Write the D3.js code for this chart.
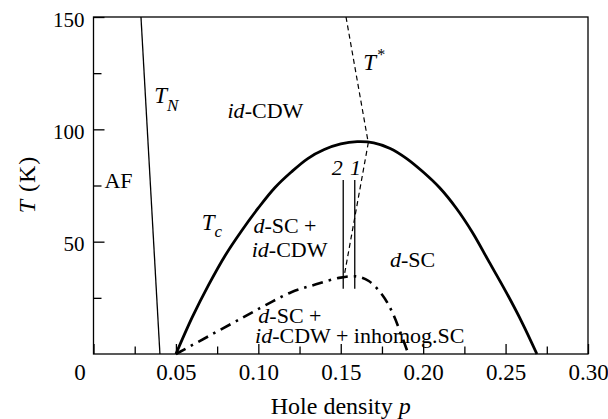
<!DOCTYPE html>
<html>
<head>
<meta charset="utf-8">
<script src="https://cdn.jsdelivr.net/npm/d3@7"></script>
<style>
    body { margin: 0; background: #fff; }
</style>
</head>
<body>
<div id="chart"></div>
<script>

// [ hole density p, T (K) ]
const tnLine       = [ [ 0.0288, 150 ], [ 0.0403, 0 ] ];
const tStarLine    = [ [ 0.1532, 150 ], [ 0.1667, 94 ], [ 0.1519, 34 ] ];
const tcCurve      = [ [ 0.05, 0 ], [ 0.06, 16.5 ], [ 0.07, 31 ], [ 0.08, 44 ], [ 0.09, 55 ],
                       [ 0.10, 65 ], [ 0.11, 74 ], [ 0.12, 81 ], [ 0.13, 87 ], [ 0.14, 91 ],
                       [ 0.15, 93.5 ], [ 0.16, 94.5 ], [ 0.17, 94 ], [ 0.18, 91.5 ], [ 0.19, 87 ],
                       [ 0.20, 81 ], [ 0.21, 74 ], [ 0.22, 65 ], [ 0.23, 54 ], [ 0.24, 41 ],
                       [ 0.25, 28 ], [ 0.26, 14 ], [ 0.269, 0 ] ];
const inhomogCurve = [ [ 0.05, 0 ], [ 0.07, 8 ], [ 0.09, 16 ], [ 0.105, 22 ], [ 0.12, 27.5 ],
                       [ 0.135, 31 ], [ 0.15, 34 ], [ 0.16, 34.5 ], [ 0.167, 32.5 ], [ 0.175, 26.5 ],
                       [ 0.181, 19 ], [ 0.186, 10 ], [ 0.191, 0 ] ];

// samples 1 and 2: p, T range
const sampleP    = [ 0.1585, 0.1515 ];
const sampleTmin = [ 29, 29 ];
const sampleTmax = [ 77.5, 77.5 ];

const xMajorTicks = [ 0, 0.05, 0.10, 0.15, 0.20, 0.25, 0.30 ];
const xMinorTicks = [ 0.025, 0.075, 0.125, 0.175, 0.225, 0.275 ];
const yMajorTicks = [ 50, 100, 150 ];
const yMinorTicks = [ 25, 75, 125 ];

// annotations: anchor in data units, pieces of [ text, italic ]
const labels = [
    { p: 0.0066, T: 73.8,  parts: [ [ "AF", false ] ] },
    { p: 0.0813, T: 104.9, parts: [ [ "id", true ], [ "-CDW", false ] ] },
    { p: 0.097,  T: 53.7,  parts: [ [ "d", true ], [ "-SC +", false ] ] },
    { p: 0.096,  T: 43.3,  parts: [ [ "id", true ], [ "-CDW", false ] ] },
    { p: 0.1799, T: 38.9,  parts: [ [ "d", true ], [ "-SC", false ] ] },
    { p: 0.100,  T: 13.7,  parts: [ [ "d", true ], [ "-SC +", false ] ] },
    { p: 0.098,  T: 4.8,   parts: [ [ "id", true ], [ "-CDW + inhomog.SC", false ] ] },
    { p: 0.1445, T: 79.7,  parts: [ [ "2", true ] ] },
    { p: 0.1556, T: 79.7,  parts: [ [ "1", true ] ] }
];

// temperature symbols: main T with a sub or superscript
const symbols = [
    { p: 0.0369, T: 111.7, sub: "N", dy: 8 },
    { p: 0.0656, T: 55.2,  sub: "c", dy: 7 },
    { p: 0.1637, T: 126.4, sub: "*", dy: -10 }
];

const SERIF = "Liberation Serif, DejaVu Serif, serif";

class PhaseDiagram
{
    constructor( parentID, width, height )
    {
        this.parentID = parentID;
        this.width    = width;
        this.height   = height;

        this.x = d3.scaleLinear().domain( [ 0, 0.30 ] ).range( [ 93.5, 588 ] );
        this.y = d3.scaleLinear().domain( [ 0, 150 ] ).range( [ 354, 17 ] );
    }

    render()
    {
        const x = this.x, y = this.y;

        const svg = d3.select( '#' + this.parentID )
                      .append( "svg" )
                      .attr( "width",  this.width )
                      .attr( "height", this.height )
                      .attr( "font-family", SERIF );

        const line = d3.line()
                       .x( d => x( d[ 0 ] ) )
                       .y( d => y( d[ 1 ] ) );

        // axes, ticks pointing inward
        const xAxis = svg.append( "g" )
                         .attr( "transform", `translate(0,${ y( 0 ) })` )
                         .call( d3.axisBottom( x ).tickValues( xMajorTicks ).tickSize( -10 ).tickSizeOuter( 0 )
                                  .tickPadding( 9.5 ).tickFormat( d => d === 0 ? "0" : d3.format( ".2f" )( d ) ) );
        xAxis.select( ".domain" ).remove();
        xAxis.selectAll( "text" )
             .attr( "font-size", 23 )
             .attr( "dx", d => d === 0 ? -14 : 0 );

        svg.append( "g" )
           .attr( "transform", `translate(0,${ y( 0 ) })` )
           .call( d3.axisBottom( x ).tickValues( xMinorTicks ).tickSize( -7.5 ).tickSizeOuter( 0 ).tickFormat( "" ) )
           .select( ".domain" ).remove();

        const yAxis = svg.append( "g" )
                         .attr( "transform", `translate(${ x( 0 ) },0)` )
                         .call( d3.axisLeft( y ).tickValues( yMajorTicks ).tickSize( -11 ).tickSizeOuter( 0 ).tickPadding( 9 ) );
        yAxis.select( ".domain" ).remove();
        yAxis.selectAll( "text" )
             .attr( "font-size", 21 )
             .attr( "dy", "0.43em" );

        svg.append( "g" )
           .attr( "transform", `translate(${ x( 0 ) },0)` )
           .call( d3.axisLeft( y ).tickValues( yMinorTicks ).tickSize( -8 ).tickSizeOuter( 0 ).tickFormat( "" ) )
           .select( ".domain" ).remove();

        svg.selectAll( ".tick line" ).attr( "stroke", "#000" ).attr( "stroke-width", 1.3 );

        svg.append( "rect" )
           .attr( "x", x( 0 ) )
           .attr( "y", y( 150 ) )
           .attr( "width",  x( 0.30 ) - x( 0 ) )
           .attr( "height", y( 0 ) - y( 150 ) )
           .attr( "fill", "none" )
           .attr( "stroke", "#000" )
           .attr( "stroke-width", 1.3 );

        // axis titles
        svg.append( "text" )
           .attr( "x", ( x( 0 ) + x( 0.30 ) ) / 2 )
           .attr( "y", 414 )
           .attr( "text-anchor", "middle" )
           .attr( "font-size", 24 )
           .call( t => t.append( "tspan" ).text( "Hole density " ) )
           .call( t => t.append( "tspan" ).attr( "font-style", "italic" ).text( "p" ) );

        svg.append( "text" )
           .attr( "transform", `translate(35,${ ( y( 0 ) + y( 150 ) ) / 2 - 1 }) rotate(-90)` )
           .attr( "text-anchor", "middle" )
           .attr( "font-size", 24 )
           .attr( "letter-spacing", 1 )
           .call( t => t.append( "tspan" ).attr( "font-style", "italic" ).text( "T" ) )
           .call( t => t.append( "tspan" ).text( "\u00a0(K)" ) );

        // phase boundaries
        svg.append( "path" )
           .datum( tnLine )
           .attr( "d", line )
           .attr( "fill", "none" )
           .attr( "stroke", "#000" )
           .attr( "stroke-width", 1.3 );

        svg.append( "path" )
           .datum( tStarLine )
           .attr( "d", line )
           .attr( "fill", "none" )
           .attr( "stroke", "#000" )
           .attr( "stroke-width", 1.2 )
           .attr( "stroke-dasharray", "5,3.5" );

        svg.append( "path" )
           .datum( tcCurve )
           .attr( "d", line.curve( d3.curveCatmullRom ) )
           .attr( "fill", "none" )
           .attr( "stroke", "#000" )
           .attr( "stroke-width", 2.8 );

        svg.append( "path" )
           .datum( inhomogCurve )
           .attr( "d", line.curve( d3.curveCatmullRom ) )
           .attr( "fill", "none" )
           .attr( "stroke", "#000" )
           .attr( "stroke-width", 2.6 )
           .attr( "stroke-dasharray", "11,6,2.5,6" );

        svg.append( "g" )
           .selectAll( "line" )
           .data( sampleP )
           .join( "line" )
           .attr( "x1", d => x( d ) )
           .attr( "x2", d => x( d ) )
           .attr( "y1", ( d, i ) => y( sampleTmin[ i ] ) )
           .attr( "y2", ( d, i ) => y( sampleTmax[ i ] ) )
           .attr( "stroke", "#000" )
           .attr( "stroke-width", 1.3 );

        // region labels
        svg.append( "g" )
           .selectAll( "text" )
           .data( labels )
           .join( "text" )
           .attr( "x", d => x( d.p ) )
           .attr( "y", d => y( d.T ) )
           .attr( "font-size", 22 )
           .each( function( d )
           {
               d.parts.forEach( part =>
               {
                   d3.select( this ).append( "tspan" )
                     .attr( "font-style", part[ 1 ] ? "italic" : "normal" )
                     .text( part[ 0 ] );
               });
           });

        const sym = svg.append( "g" )
                       .selectAll( "text" )
                       .data( symbols )
                       .join( "text" )
                       .attr( "x", d => x( d.p ) )
                       .attr( "y", d => y( d.T ) )
                       .attr( "font-size", 23 )
                       .attr( "font-style", "italic" );
        sym.append( "tspan" ).text( "T" );
        sym.append( "tspan" )
           .attr( "dy", d => d.dy )
           .attr( "dx", d => d.sub === "*" ? 1 : 0 )
           .attr( "font-size", d => d.sub === "*" ? 16 : 17 )
           .attr( "font-style", d => d.sub === "*" ? "normal" : "italic" )
           .text( d => d.sub );

        svg.selectAll( "text" ).attr( "font-family", SERIF ).attr( "fill", "#000" );
    }
}

const chart = new PhaseDiagram( "chart", 608, 419 );
chart.render();

</script>
</body>
</html>
